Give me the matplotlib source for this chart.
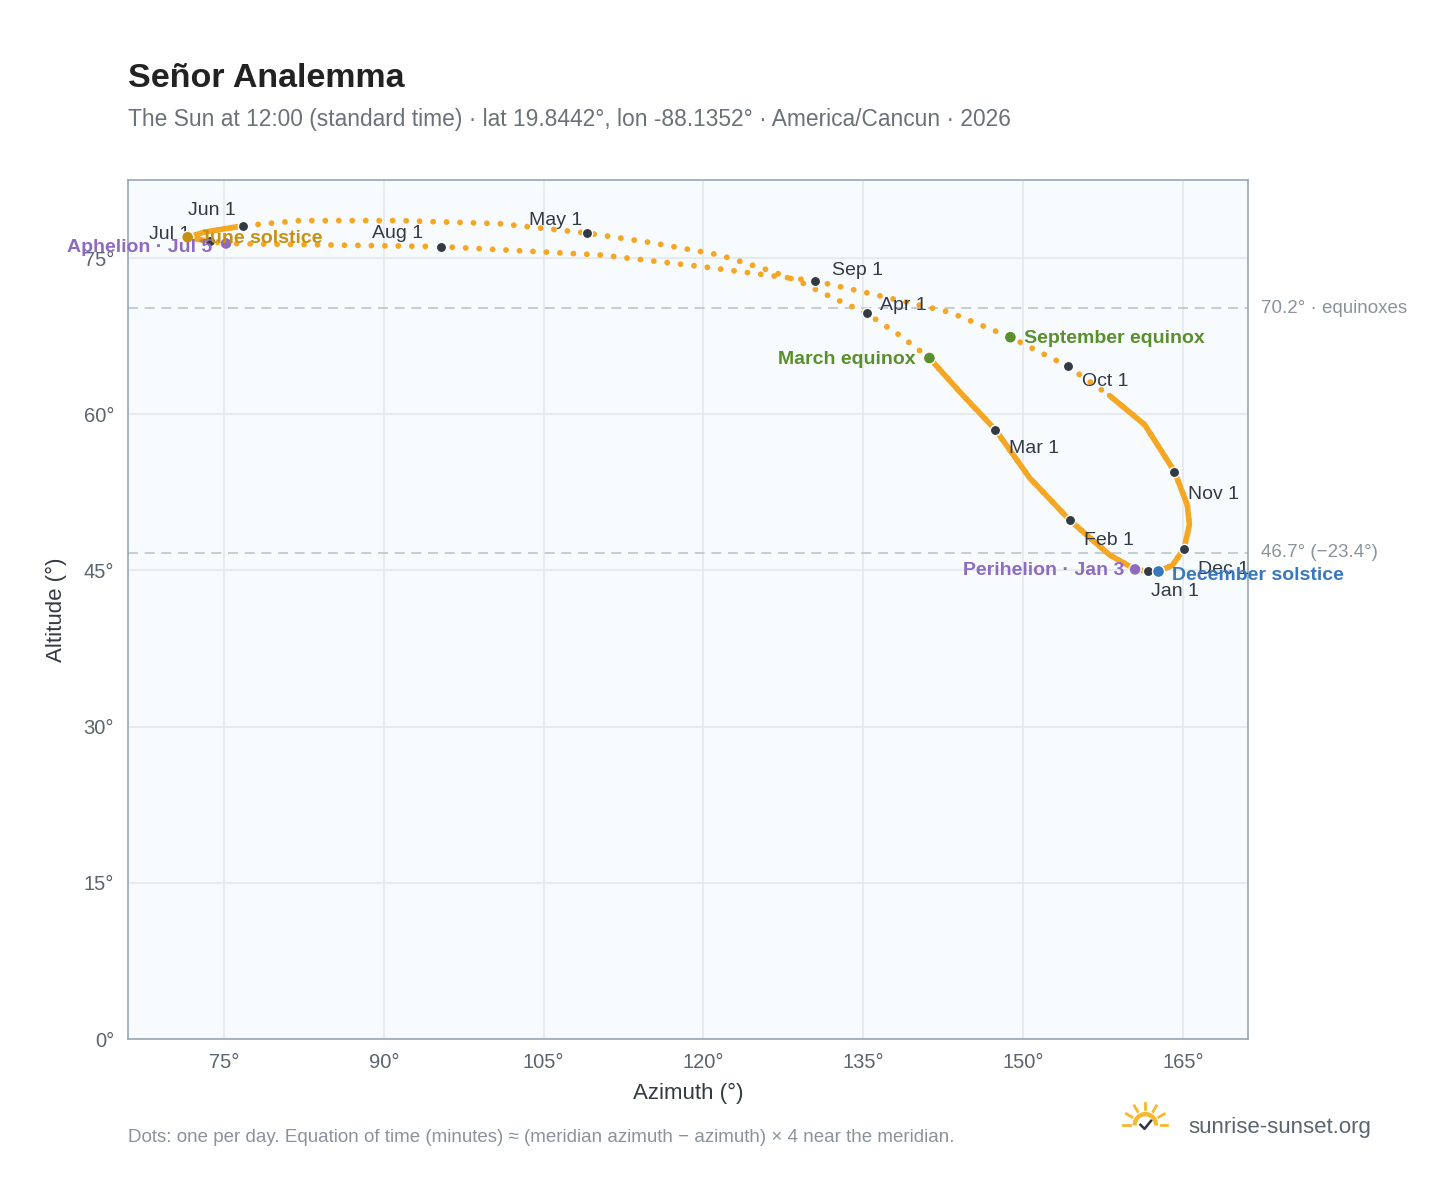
import numpy as np
import matplotlib.pyplot as plt
from matplotlib.patches import Wedge

plt.rcParams['font.family'] = ['Liberation Sans', 'DejaVu Sans']

# sun position at 12:00 (azimuth, altitude in degrees)
path_az = [161.8, 160.5, 158.1, 154.4, 150.6, 147.4, 144.1, 141.2, 138.4, 135.3,
           131.9, 129.1, 126.2, 121.5, 115.0, 109.1, 100.9, 91.5, 82.1, 76.8,
           73.2, 71.6, 73.7, 75.2, 82.1, 95.4, 110.3, 119.7, 127.2, 130.5,
           135.6, 143.1, 148.8, 154.2, 158.1, 161.4, 164.2, 165.4, 165.6, 165.1,
           164.0, 162.7, 161.8]
path_alt = [44.9, 45.1, 46.5, 49.8, 53.9, 58.5, 62.1, 65.4, 67.6, 69.7,
            71.3, 72.7, 73.8, 75.3, 76.5, 77.4, 78.3, 78.6, 78.6, 78.1,
            77.5, 77.0, 76.6, 76.4, 76.3, 76.1, 75.3, 74.2, 73.2, 72.8,
            71.6, 69.8, 67.4, 64.6, 61.8, 59.0, 54.5, 51.3, 49.4, 47.1,
            45.5, 44.9, 44.9]

months = ["Jan 1", "Feb 1", "Mar 1", "Apr 1", "May 1", "Jun 1",
          "Jul 1", "Aug 1", "Sep 1", "Oct 1", "Nov 1", "Dec 1"]
month_az = [161.7, 154.4, 147.4, 135.3, 109.1, 76.8, 73.7, 95.4, 130.5, 154.2, 164.2, 165.1]
month_alt = [44.9, 49.8, 58.5, 69.7, 77.4, 78.1, 76.6, 76.1, 72.8, 64.6, 54.5, 47.1]
month_off = [(2, -18), (10, -18), (10, -17), (10, 2), (-42, 6), (-40, 8),
             (-44, 2), (-50, 6), (12, 4), (10, -14), (10, -20), (10, -18)]

events = ["Perihelion · Jan 3", "March equinox", "June solstice",
          "Aphelion · Jul 5", "September equinox", "December solstice"]
event_az = [160.5, 141.2, 71.6, 75.2, 148.8, 162.7]
event_alt = [45.1, 65.4, 77.0, 76.4, 67.4, 44.9]
event_col = ["#8e6bbf", "#5a8f2e", "#c98f0e", "#8e6bbf", "#5a8f2e", "#3a78bd"]
event_off = [(-8, -4, "right"), (-10, -4, "right"), (8, -4, "left"),
             (-10, -6, "right"), (10, -4, "left"), (10, -6, "left")]

ref_alt = [70.2, 46.7]
ref_lbl = ["70.2° · equinoxes", "46.7° (−23.4°)"]

fig = plt.figure(figsize=(14.48, 11.88), dpi=100)
ax = fig.add_axes([0.0884, 0.1254, 0.7735, 0.7231])
ax.set_facecolor("#f8fbfd")
orange = "#f5a623"

# dotted daily path, solid where the days crowd together
ax.plot(path_az, path_alt, color=orange, lw=4.2, ls=(0, (0.01, 2.3)),
        dash_capstyle="round", zorder=3)
ax.plot(path_az[34:] + path_az[:8], path_alt[34:] + path_alt[:8],
        color=orange, lw=4, solid_capstyle="round", solid_joinstyle="round", zorder=3)
ax.plot(path_az[19:24], path_alt[19:24], color=orange, lw=4, zorder=3)

for y, t in zip(ref_alt, ref_lbl):
    ax.axhline(y, color="#bcc4cc", ls=(0, (6, 4)), lw=1.2, zorder=1)
    ax.annotate(t, xy=(1, y), xycoords=("axes fraction", "data"),
                xytext=(9, 0), textcoords="offset points", va="center",
                fontsize=13.5, color="#8a939c", annotation_clip=False)

ax.scatter(month_az, month_alt, s=55, color="#323a45", edgecolor="white",
           lw=1, zorder=5)
for m, x, y, o in zip(months, month_az, month_alt, month_off):
    ax.annotate(m, (x, y), xytext=o, textcoords="offset points",
                fontsize=14, color="#333a44", zorder=6)

ax.scatter(event_az, event_alt, s=75, color=event_col, edgecolor="white",
           lw=1, zorder=6)
for e, x, y, c, o in zip(events, event_az, event_alt, event_col, event_off):
    ax.annotate(e, (x, y), xytext=o[:2], textcoords="offset points",
                ha=o[2], fontsize=14, fontweight="bold", color=c, zorder=7,
                annotation_clip=False)

ax.set_xlim(66.0, 171.1)
ax.set_ylim(0, 82.5)
ax.set_xticks(range(75, 166, 15))
ax.set_yticks(range(0, 76, 15))
ax.set_xticklabels([f"{v}°" for v in range(75, 166, 15)])
ax.set_yticklabels([f"{v}°" for v in range(0, 76, 15)])
ax.tick_params(length=0, labelsize=14.5, colors="#5c6470", pad=10)
ax.grid(color="#e3e8ee", lw=1.2)
ax.set_axisbelow(True)
for s in ax.spines.values():
    s.set_color("#9aa5b1")
    s.set_linewidth(1.2)
ax.set_xlabel("Azimuth (°)", fontsize=16, color="#333a44", labelpad=8)
ax.set_ylabel("Altitude (°)", fontsize=16, color="#333a44", labelpad=12)

fig.text(0.0884, 0.927, "Señor Analemma", fontsize=24.5, fontweight="bold",
         color="#222222")
fig.text(0.0884, 0.894, "The Sun at 12:00 (standard time) · lat 19.8442°, lon -88.1352° · America/Cancun · 2026",
         fontsize=16.4, color="#6b717a")
fig.text(0.0884, 0.039, "Dots: one per day. Equation of time (minutes) ≈ (meridian azimuth − azimuth) × 4 near the meridian.",
         fontsize=13.5, color="#8a939c")
fig.text(0.821, 0.046, "sunrise-sunset.org", fontsize=16, color="#5c6470")

# small sun logo
lg = fig.add_axes([0.773, 0.045, 0.036, 0.03])
lg.set_xlim(-1.6, 1.6)
lg.set_ylim(-0.6, 1.6)
lg.set_aspect("equal")
lg.axis("off")
lg.add_patch(Wedge((0, 0), 0.75, 0, 180, width=0.18, color="#f5b82e"))
for a in np.radians([0, 30, 60, 90, 120, 150, 180]):
    lg.plot([0.95 * np.cos(a), 1.35 * np.cos(a)], [0.95 * np.sin(a), 1.35 * np.sin(a)],
            color="#f5b82e", lw=2)
lg.plot([-0.3, -0.05, 0.35], [0.0, -0.25, 0.25], color="#2b3440", lw=1.8)

fig.savefig("out.png", dpi=100)
